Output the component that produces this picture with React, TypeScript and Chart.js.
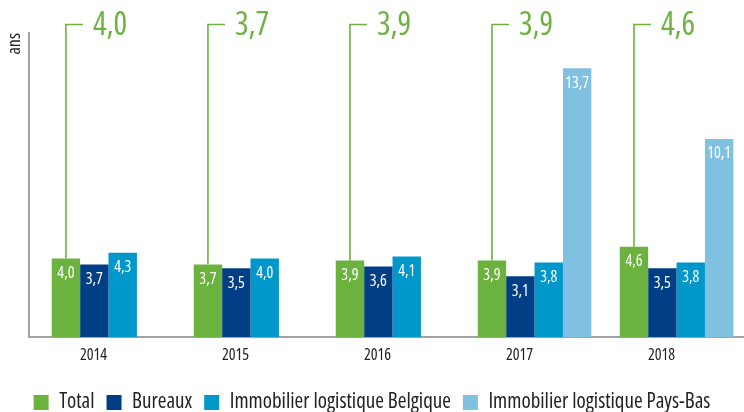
import React, { useEffect, useRef } from 'react';
import { Chart, registerables } from 'chart.js';

Chart.register(...registerables);

const years = ['2014', '2015', '2016', '2017', '2018'];
const totalValues = [4.0, 3.7, 3.9, 3.9, 4.6];
const bureauxValues = [3.7, 3.5, 3.6, 3.1, 3.5];
const belgiqueValues = [4.3, 4.0, 4.1, 3.8, 3.8];
const paysBasValues: (number | null)[] = [null, null, null, 13.7, 10.1];
const seriesNames = ['Total', 'Bureaux', 'Immobilier logistique Belgique', 'Immobilier logistique Pays-Bas'];
const seriesColors = ['#6bb33e', '#003f85', '#0098ca', '#80c1e1'];
const axisTitle = 'ans';

const FONT = "'Open Sans', 'Roboto Condensed', sans-serif";
const AXIS_GREY = '#a3a3a3';

const fmt = (v: number) => v.toFixed(1).replace('.', ',');

const labelsPlugin = {
  id: 'valueLabels',
  afterDatasetsDraw(chart: any) {
    const { ctx, chartArea } = chart;
    ctx.save();
    const meta0 = chart.getDatasetMeta(0);
    const lineY = chartArea.top - 8.5;
    meta0.data.forEach((bar: any, i: number) => {
      const v = totalValues[i];
      ctx.strokeStyle = seriesColors[0];
      ctx.lineWidth = 1.6;
      ctx.beginPath();
      ctx.moveTo(bar.x, bar.y);
      ctx.lineTo(bar.x, lineY);
      ctx.lineTo(bar.x + 17, lineY);
      ctx.stroke();
      ctx.fillStyle = seriesColors[0];
      ctx.font = `32px ${FONT}`;
      ctx.textAlign = 'left';
      ctx.textBaseline = 'middle';
      ctx.fillText(fmt(v), bar.x + 27, lineY + 1);
    });
    chart.data.datasets.forEach((ds: any, di: number) => {
      const meta = chart.getDatasetMeta(di);
      meta.data.forEach((bar: any, i: number) => {
        const pt = ds.data[i];
        if (!pt || pt.y == null) return;
        ctx.fillStyle = '#ffffff';
        ctx.font = `16px ${FONT}`;
        ctx.textAlign = 'center';
        ctx.textBaseline = 'middle';
        ctx.fillText(fmt(pt.y), bar.x, bar.y + 15);
      });
    });
    ctx.restore();
  },
};

function condenseContext(canvas: HTMLCanvasElement) {
  const ctx: any = canvas.getContext('2d');
  const desc = Object.getOwnPropertyDescriptor(CanvasRenderingContext2D.prototype, 'font');
  if (desc && desc.set && desc.get) {
    Object.defineProperty(ctx, 'font', {
      configurable: true,
      get() { return desc.get!.call(this); },
      set(v: string) { desc.set!.call(this, v); this.fontStretch = 'condensed'; },
    });
  }
  ctx.fontStretch = 'condensed';
}

export default function App() {
  const ref = useRef<HTMLCanvasElement>(null);
  useEffect(() => {
    document.body.style.margin = '0';
    document.body.style.overflow = 'hidden';
    condenseContext(ref.current!);
    const all = [totalValues, bureauxValues, belgiqueValues, paysBasValues];
    const chart = new Chart(ref.current!, {
      type: 'bar',
      data: {
        datasets: all.map((vals, di) => ({
          label: seriesNames[di],
          data: vals.map((v, i) => ({ x: i, y: v })),
          backgroundColor: seriesColors[di],
          borderWidth: 0,
          categoryPercentage: 0.8,
          barPercentage: 1.0,
        })) as any,
      },
      options: {
        animation: false,
        responsive: true,
        maintainAspectRatio: false,
        font: { family: FONT },
        layout: { padding: { top: 33, left: 0, right: 0, bottom: -11 } },
        plugins: {
          tooltip: { enabled: false },
          legend: {
            position: 'bottom',
            labels: {
              boxWidth: 15,
              boxHeight: 15,
              padding: 12,
              color: '#222',
              font: { family: FONT, size: 21 },
            },
          },
        },
        scales: {
          x: {
            type: 'linear',
            min: -0.56,
            max: 4.475,
            offset: false,
            grid: { display: false, drawTicks: false },
            border: { display: true, color: AXIS_GREY, width: 2 },
            ticks: {
              stepSize: 1,
              includeBounds: false,
              padding: 9,
              labelOffset: -15,
              color: '#222',
              font: { family: FONT, size: 16 },
              callback: (v: any) => (Number.isInteger(v) && years[v] !== undefined ? years[v] : null),
            },
            afterFit: (s: any) => { s.height = 43; },
          },
          y: {
            min: 0,
            max: 15.5,
            grid: { display: false, drawTicks: false },
            border: { display: true, color: AXIS_GREY, width: 2 },
            ticks: { display: false },
            title: {
              display: true,
              text: axisTitle,
              align: 'end',
              color: '#222',
              font: { family: FONT, size: 18 },
              padding: { top: 4, bottom: 0 },
            },
            afterFit: (s: any) => { s.width = 29; },
          },
        },
      } as any,
      plugins: [labelsPlugin],
    });
    return () => chart.destroy();
  }, []);
  return (
    <div style={{ position: 'relative', width: 744, height: 412 }}>
      <canvas ref={ref} />
    </div>
  );
}
